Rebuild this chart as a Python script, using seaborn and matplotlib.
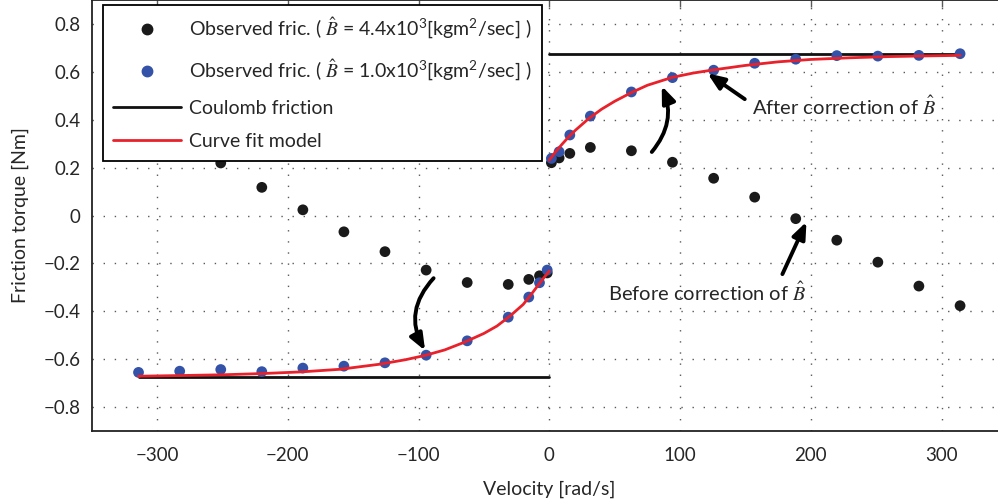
import matplotlib
matplotlib.use('Agg')
import matplotlib.pyplot as plt
import matplotlib.font_manager as fm
from matplotlib.lines import Line2D
import numpy as np
import pandas as pd
import seaborn as sns

# ---- data ----
velocity = [-314.2, -282.7, -251.3, -219.9, -188.5, -157.1, -125.7, -94.2, -62.8, -31.4,
            -15.7, -7.5, -1.6, 1.6, 7.5, 15.7, 31.4, 62.8, 94.2, 125.7, 157.1, 188.5,
            219.9, 251.3, 282.7, 314.2]
fric_before = [0.39, 0.31, 0.22, 0.118, 0.024, -0.068, -0.151, -0.228, -0.280, -0.288,
               -0.267, -0.252, -0.240, 0.221, 0.241, 0.260, 0.285, 0.271, 0.223, 0.156,
               0.077, -0.013, -0.103, -0.195, -0.295, -0.377]
fric_after = [-0.656, -0.651, -0.644, -0.653, -0.638, -0.630, -0.616, -0.584, -0.524, -0.425,
              -0.341, -0.281, -0.228, 0.239, 0.267, 0.337, 0.416, 0.517, 0.577, 0.608,
              0.637, 0.654, 0.669, 0.667, 0.670, 0.677]

coulomb_v = [-314.2, 0.0, 0.0, 314.2]
coulomb_f = [-0.674, -0.674, 0.674, 0.674]
coulomb_seg = [0, 0, 1, 1]

fit_v_neg = [-314.2, -280, -250, -220, -190, -160, -130, -110, -95, -80, -65, -50, -40,
             -30, -20, -15, -10, -5, 0]
fit_f_neg = [-0.672, -0.669, -0.666, -0.661, -0.654, -0.643, -0.622, -0.603, -0.585,
             -0.562, -0.530, -0.493, -0.462, -0.420, -0.372, -0.338, -0.302, -0.266, -0.232]
fit_v_pos = [0, 5, 10, 15, 20, 30, 40, 50, 63, 75, 94, 110, 125, 150, 175, 200, 230, 260,
             290, 314.2]
fit_f_pos = [0.232, 0.268, 0.300, 0.330, 0.357, 0.405, 0.445, 0.478, 0.515, 0.545, 0.578,
             0.596, 0.609, 0.628, 0.643, 0.653, 0.660, 0.665, 0.668, 0.670]

legend_labels = [
    r'Observed fric. ( $\hat{B}$ = 4.4x10$\mathregular{^3}$[kgm$\mathregular{^2}$/sec] )',
    r'Observed fric. ( $\hat{B}$ = 1.0x10$\mathregular{^3}$[kgm$\mathregular{^2}$/sec] )',
    'Coulomb friction',
    'Curve fit model',
]

sns.set_style('white')
avail = {f.name for f in fm.fontManager.ttflist}
fam = 'Lato' if 'Lato' in avail else 'DejaVu Sans'
plt.rcParams['font.family'] = [fam, 'DejaVu Sans']
plt.rcParams['mathtext.fontset'] = 'stix'
plt.rcParams['axes.unicode_minus'] = True

fig = plt.figure(figsize=(9.98, 5.03), dpi=100)
ax = fig.add_axes([0.0919, 0.1437, 0.917, 0.8555])

df_c = pd.DataFrame({'v': coulomb_v, 'f': coulomb_f, 'seg': coulomb_seg})
sns.lineplot(data=df_c, x='v', y='f', units='seg', estimator=None, color='#111111',
             lw=2.0, ax=ax, zorder=3)

df = pd.DataFrame({'v': velocity, 'before': fric_before, 'after': fric_after})
sns.scatterplot(data=df, x='v', y='before', color='#1a1a1a', s=60, edgecolor='none',
                ax=ax, zorder=4)
sns.scatterplot(data=df, x='v', y='after', color='#3352a8', s=60, edgecolor='none',
                ax=ax, zorder=5)

df_fit = pd.DataFrame({'v': fit_v_neg + fit_v_pos, 'f': fit_f_neg + fit_f_pos,
                       'seg': [0] * len(fit_v_neg) + [1] * len(fit_v_pos)})
sns.lineplot(data=df_fit, x='v', y='f', units='seg', estimator=None, color='#e8212b',
             lw=2.0, ax=ax, zorder=6)

ax.set_xlim(-350, 350)
ax.set_ylim(-0.9, 0.9)
ax.set_xticks([-300, -200, -100, 0, 100, 200, 300])
ax.set_yticks([-0.8, -0.6, -0.4, -0.2, 0, 0.2, 0.4, 0.6, 0.8])
ax.set_yticklabels(['\u22120.8', '\u22120.6', '\u22120.4', '\u22120.2', '0', '0.2', '0.4',
                    '0.6', '0.8'])
ax.grid(True, color='0.35', lw=1.0, linestyle=(0, (1, 7)))
ax.tick_params(direction='in', top=True, right=True, length=5, width=1, color='0.35',
               labelsize=13.5, pad=8)
ax.tick_params(axis='x', pad=12)
for sp in ax.spines.values():
    sp.set_color('#222222')
    sp.set_linewidth(1.3)
ax.set_xlabel('Velocity [rad/s]', fontsize=14)
ax.set_ylabel('Friction torque [Nm]', fontsize=14)
ax.xaxis.set_label_coords(0.5, -0.115)
ax.yaxis.set_label_coords(-0.068, 0.5)

# annotations
arrow_kw = dict(arrowstyle='-|>,head_length=1.0,head_width=0.4', color='black', lw=2.8,
                shrinkA=0, shrinkB=0)
ax.annotate('', xy=(86, 0.542), xytext=(78.4, 0.266),
            arrowprops=dict(connectionstyle='arc3,rad=0.3', **arrow_kw), zorder=7)
ax.annotate('', xy=(-95, -0.565), xytext=(-88.5, -0.262),
            arrowprops=dict(connectionstyle='arc3,rad=0.36', **arrow_kw), zorder=7)
ax.annotate('', xy=(121, 0.595), xytext=(149.5, 0.487),
            arrowprops=dict(connectionstyle='arc3,rad=0', **arrow_kw), zorder=7)
ax.annotate('', xy=(196.7, -0.026), xytext=(178.3, -0.245),
            arrowprops=dict(connectionstyle='arc3,rad=0', **arrow_kw), zorder=7)
ax.text(155.4, 0.458, r'After correction of $\hat{B}$', fontsize=14.5, va='center', ha='left')
ax.text(44.7, -0.32, r'Before correction of $\hat{B}$', fontsize=14.5, va='center', ha='left')

handles = [
    Line2D([], [], marker='o', ls='none', color='#1a1a1a', markersize=7.5),
    Line2D([], [], marker='o', ls='none', color='#3352a8', markersize=7.5),
    Line2D([], [], color='#111111', lw=2.0),
    Line2D([], [], color='#e8212b', lw=2.0),
]
leg = ax.legend(handles, legend_labels, loc='upper left',
                bbox_to_anchor=(102.7 / 998, 1 - 5 / 503), bbox_transform=fig.transFigure,
                borderaxespad=0, fontsize=14, frameon=True, fancybox=False, framealpha=1,
                handlelength=3.5, handletextpad=0.4, labelspacing=0.85, borderpad=0.55)
leg.get_frame().set_edgecolor('black')
leg.get_frame().set_linewidth(1.3)
leg.set_zorder(10)

fig.savefig('out.png', dpi=100)
